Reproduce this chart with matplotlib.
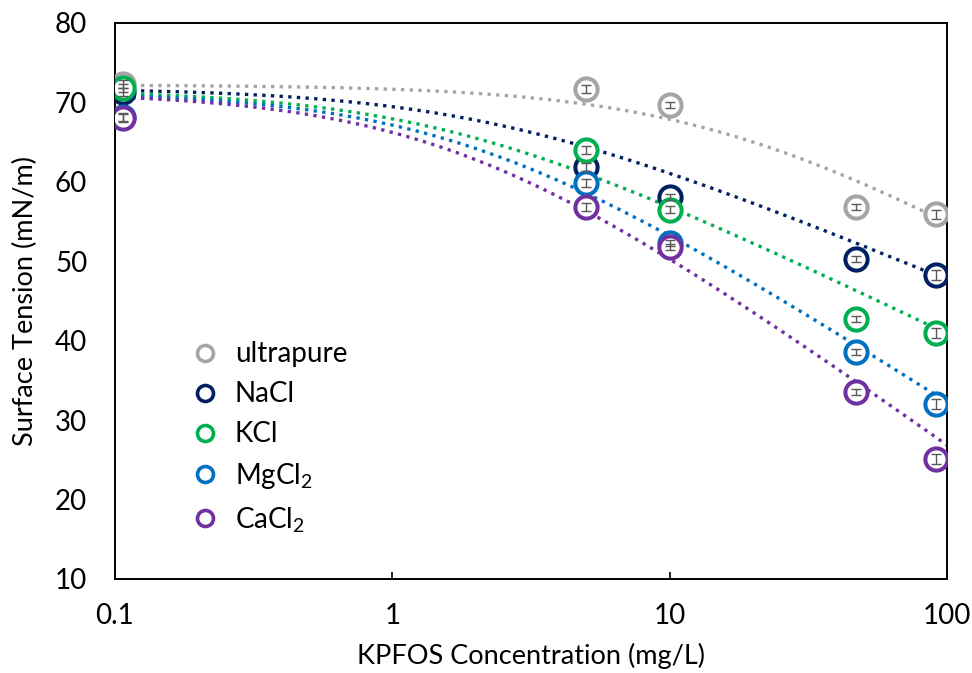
import numpy as np
import matplotlib
matplotlib.use("Agg")
import matplotlib.pyplot as plt
from matplotlib.ticker import FixedLocator, FixedFormatter, NullLocator

plt.rcParams['font.family'] = ['Lato', 'DejaVu Sans']
plt.rcParams['mathtext.fontset'] = 'custom'
plt.rcParams['mathtext.rm'] = 'Lato'
plt.rcParams['mathtext.default'] = 'rm'

# KPFOS concentration (mg/L)
conc = [0.107, 5.0, 10.0, 47.0, 91.0]

# surface tension (mN/m)
labels = ['ultrapure', 'NaCl', 'KCl', 'MgCl$_2$', 'CaCl$_2$']
colors = ['#A5A5A5', '#002060', '#00B050', '#0070C0', '#7030A0']
ultrapure = [72.3, 71.7, 69.7, 56.8, 55.9]
nacl = [71.3, 61.9, 58.1, 50.3, 48.3]
kcl = [71.8, 64.0, 56.5, 42.7, 41.0]
mgcl2 = [68.2, 59.9, 52.3, 38.6, 32.0]
cacl2 = [68.0, 56.8, 51.8, 33.5, 25.1]
series = [ultrapure, nacl, kcl, mgcl2, cacl2]
# small standard deviations
err = [0.5, 0.5, 0.4, 0.4, 0.6]

# dotted fit curves (Szyszkowski type), parameters read to follow the figure
fit_g0 = [72.2, 71.8, 71.6, 71.4, 71.3]
fit_a = [8.55, 6.3, 7.33, 9.72, 10.81]
fit_b = [0.066, 0.45, 0.65, 0.55, 0.60]


def szyszkowski(c, g0, a, b):
    return g0 - a * np.log(1 + b * c)


fig = plt.figure(figsize=(9.72, 6.73), dpi=100)
ax = fig.add_axes([0.1183, 0.1397, 0.8560, 0.8262])

xs = np.logspace(-1, 2, 300)
for y, lab, col, g0, a, b in zip(series, labels, colors, fit_g0, fit_a, fit_b):
    ax.plot(xs, szyszkowski(xs, g0, a, b), ls=(0, (1, 1.6)), lw=2.4,
            color=col, zorder=2)

for y, lab, col in zip(series, labels, colors):
    ax.plot(conc, y, 'o', ms=16, mfc='white', mec=col, mew=2.9,
            zorder=3, label=lab)
    ax.errorbar(conc, y, yerr=err, fmt='none', ecolor='#595959',
                elinewidth=1.0, capsize=3.5, capthick=1.0, zorder=4)

ax.set_xscale('log')
ax.set_xlim(0.1, 100)
ax.set_ylim(10, 80)
ax.xaxis.set_major_locator(FixedLocator([0.1, 1, 10, 100]))
ax.xaxis.set_major_formatter(FixedFormatter(['0.1', '1', '10', '100']))
ax.xaxis.set_minor_locator(NullLocator())
ax.set_yticks(np.arange(10, 81, 10))
ax.tick_params(axis='x', direction='in', length=5, width=1.2,
               labelsize=20, pad=17)
ax.tick_params(axis='y', length=0, labelsize=20, pad=20)
for s in ax.spines.values():
    s.set_linewidth(1.4)

ax.set_xlabel('KPFOS Concentration (mg/L)', fontsize=19.5, labelpad=10)
ax.set_ylabel('Surface Tension (mN/m)', fontsize=19.5, labelpad=12)

handles, labs = ax.get_legend_handles_labels()
leg = ax.legend(handles, labs, loc='lower left', bbox_to_anchor=(0.062, 0.035),
                frameon=False, fontsize=20, markerscale=0.72,
                handletextpad=0.55, labelspacing=0.5, handlelength=1.0)
for h in leg.legend_handles:
    h.set_markeredgewidth(2.6)

fig.savefig('out.png', dpi=100)
